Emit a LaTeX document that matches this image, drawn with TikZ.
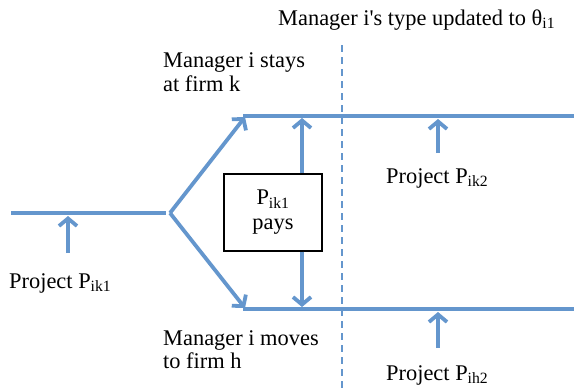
\documentclass[tikz,border=0pt]{standalone}
\usepackage{fontspec}
\setmainfont{Liberation Serif}
\usetikzlibrary{arrows.meta}
\definecolor{flow}{RGB}{100,150,205}
\tikzset{
  flowline/.style={draw=flow, line width=3.8pt},
  flowarrow/.style={flowline, -{Straight Barb[length=7.5pt,width=18pt,line width=3.8pt]}},
  divider/.style={draw=flow, line width=1.6pt, dash pattern=on 7pt off 5pt},
  lbl/.style={inner sep=0pt, font=\fontsize{22.4}{24}\selectfont, anchor=base west},
  paybox/.style={draw=black, line width=1.2pt, fill=white, minimum width=98pt, minimum height=77pt, inner sep=0pt, align=center, font=\fontsize{22.4}{25}\selectfont}
}
\begin{document}
\begin{tikzpicture}[x=1pt,y=-1pt]
\useasboundingbox (0,0) rectangle (574,388);
% divider
\coordinate (dtop) at (342,45);
\coordinate (dbot) at (342,388);
\draw[divider] (dtop) -- (dbot);
% main lines
\coordinate (start) at (11,213);
\coordinate (lend) at (166,213);
\coordinate (fork) at (170,213);
\coordinate (utip) at (245,117);
\coordinate (ltip) at (245,308);
\coordinate (ustart) at (243,116);
\coordinate (uend) at (574,116);
\coordinate (lstart) at (243,309);
\coordinate (lend2) at (574,309);
\draw[flowline] (start) -- (lend);
\draw[flowarrow] (fork) -- (utip);
\draw[flowarrow] (fork) -- (ltip);
\draw[flowline] (ustart) -- (uend);
\draw[flowline] (lstart) -- (lend2);
% box
\node[paybox] (box) at (273,212.5) {P\textsubscript{ik1}\\pays};
\coordinate (bx) at (302,0);
\coordinate (boxtop) at (box.north -| bx);
\coordinate (boxbot) at (box.south -| bx);
\draw[flowarrow] (boxtop) -- (boxtop |- 0,118);
\draw[flowarrow] (boxbot) -- (boxbot |- 0,307);
% project arrows
\coordinate (a1s) at (68,253);
\coordinate (a1e) at (68,216);
\coordinate (a2s) at (438,153);
\coordinate (a2e) at (438,119);
\coordinate (a3s) at (438,348);
\coordinate (a3e) at (438,312);
\draw[flowarrow] (a1s) -- (a1e);
\draw[flowarrow] (a2s) -- (a2e);
\draw[flowarrow] (a3s) -- (a3e);
% labels
\node[lbl] (title) at (278,25) {Manager i\textquotesingle s type updated to θ\textsubscript{i1}};
\node[lbl] (stay1) at (163,67) {Manager i stays};
\node[lbl] (stay2) at (163,91) {at firm k};
\node[lbl] (move1) at (163,345) {Manager i moves};
\node[lbl] (move2) at (163,368) {to firm h};
\node[lbl] (p1) at (9,288) {Project P\textsubscript{ik1}};
\node[lbl] (p2) at (386,183) {Project P\textsubscript{ik2}};
\node[lbl] (p3) at (386,380) {Project P\textsubscript{ih2}};
\end{tikzpicture}
\end{document}
